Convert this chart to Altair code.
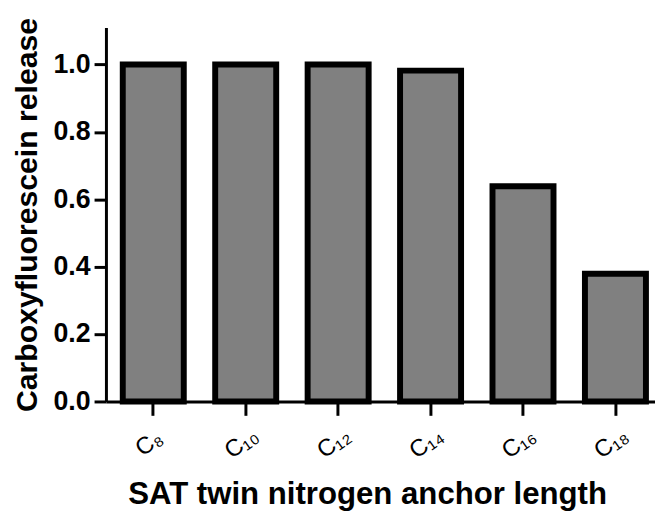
import altair as alt
import pandas as pd

categories = ["C\u2088", "C\u2081\u2080", "C\u2081\u2082", "C\u2081\u2084", "C\u2081\u2086", "C\u2081\u2088"]
values = [1.0, 1.0, 1.0, 0.982, 0.639, 0.379]
y_ticks = [0.0, 0.2, 0.4, 0.6, 0.8, 1.0]

df = pd.DataFrame({"anchor": categories, "release": values})

FONT = "Liberation Sans"

chart = alt.Chart(df).mark_bar(
    color="#808080", stroke="black", strokeWidth=6, strokeJoin="miter"
).encode(
    x=alt.X(
        "anchor:N",
        sort=categories,
        scale=alt.Scale(paddingInner=0.34, paddingOuter=0.14, align=0.65),
        axis=alt.Axis(
            title="SAT twin nitrogen anchor length",
            titleFont=FONT, titleFontSize=31.5, titleFontWeight="bold", titleColor="black",
            titleX=264, titleY=78, titleBaseline="top",
            labelFont="Liberation Sans, DejaVu Sans", labelFontSize=24, labelColor="black",
            labelAngle=-35, labelAlign="center", labelBaseline="middle", labelPadding=28,
            labelOffset=-4,
            domainColor="black", domainWidth=3, tickColor="black", tickWidth=3, tickSize=14,
            grid=False,
        ),
    ),
    y=alt.Y(
        "release:Q",
        scale=alt.Scale(domain=[0, 1.11], nice=False, zero=True),
        axis=alt.Axis(
            title="Carboxyfluorescein release",
            titleFont=FONT, titleFontSize=30.5, titleFontWeight="bold", titleColor="black",
            titlePadding=11,
            values=y_ticks, format=".1f",
            labelFont=FONT, labelFontSize=27, labelFontWeight="bold", labelColor="black",
            labelPadding=4,
            domainColor="black", domainWidth=3, tickColor="black", tickWidth=3, tickSize=12,
            grid=False,
        ),
    ),
).properties(
    width=555,
    height=378,
    autosize=alt.AutoSizeParams(type="none"),
    padding={"left": 99, "top": 17, "right": 0, "bottom": 108},
).configure_view(stroke=None)

chart.save("out.html", embed_options={"renderer": "svg", "actions": False})
